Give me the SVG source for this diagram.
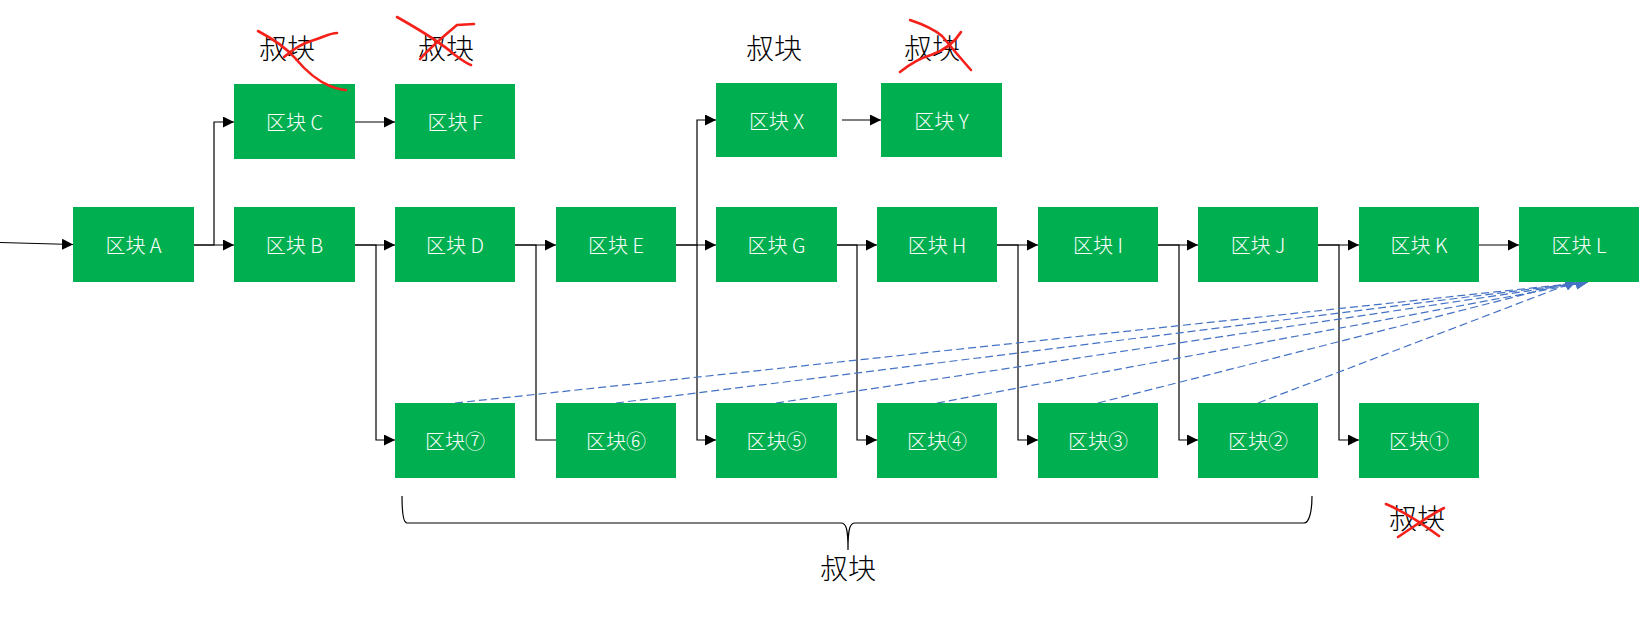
<svg xmlns="http://www.w3.org/2000/svg" width="1644" height="618" viewBox="0 0 1644 618">
<style>
.box rect{fill:#00B050;}
.box text{fill:#fff;font-family:"Noto Sans CJK SC","Noto Sans",sans-serif;font-size:20px;font-weight:300;text-anchor:middle;dominant-baseline:central;}
.lbl{fill:#000;font-family:"Noto Sans CJK SC",sans-serif;font-size:28px;font-weight:300;text-anchor:middle;dominant-baseline:central;}
.c{fill:none;stroke:#000;stroke-width:1.2;}
.d{fill:none;stroke:#4472C4;stroke-width:1.2;stroke-dasharray:8 4;}
.x{fill:none;stroke:#F5201A;stroke-width:2.6;stroke-linecap:round;stroke-linejoin:round;}
</style>
<defs>
<marker id="ah" markerUnits="userSpaceOnUse" markerWidth="12" markerHeight="12" refX="11" refY="5.5" orient="auto"><path d="M0,0 L11,5.5 L0,11 z" fill="#000"/></marker>
<marker id="bh" markerUnits="userSpaceOnUse" markerWidth="13" markerHeight="12" refX="12" refY="5.5" orient="auto"><path d="M0,0 L12,5.5 L0,11 z" fill="#4472C4"/></marker>
</defs>
<rect width="1644" height="618" fill="#fff"/>

<g id="connectors">
<path class="c" d="M0,242.5 L73,244.5" marker-end="url(#ah)"/>
<path class="c" d="M194,245 L234,245" marker-end="url(#ah)"/>
<path class="c" d="M194,245 L214,245 L214,122 L234,122" marker-end="url(#ah)"/>
<path class="c" d="M355,122 L395,122" marker-end="url(#ah)"/>
<path class="c" d="M355,245 L395,245" marker-end="url(#ah)"/>
<path class="c" d="M355,245 L376,245 L376,440 L395,440" marker-end="url(#ah)"/>
<path class="c" d="M515,245 L556,245" marker-end="url(#ah)"/>
<path class="c" d="M515,245 L536,245 L536,440 L556,440"/>
<path class="c" d="M676,245 L716,245" marker-end="url(#ah)"/>
<path class="c" d="M676,245 L697,245 L697,120 L716,120" marker-end="url(#ah)"/>
<path class="c" d="M697,245 L697,440 L716,440" marker-end="url(#ah)"/>
<path class="c" d="M842,120 L881,120" marker-end="url(#ah)"/>
<path class="c" d="M837,245 L877,245" marker-end="url(#ah)"/>
<path class="c" d="M837,245 L857,245 L857,440 L877,440" marker-end="url(#ah)"/>
<path class="c" d="M997,245 L1038,245" marker-end="url(#ah)"/>
<path class="c" d="M997,245 L1018,245 L1018,440 L1038,440" marker-end="url(#ah)"/>
<path class="c" d="M1158,245 L1198,245" marker-end="url(#ah)"/>
<path class="c" d="M1158,245 L1179,245 L1179,440 L1198,440" marker-end="url(#ah)"/>
<path class="c" d="M1318,245 L1359,245" marker-end="url(#ah)"/>
<path class="c" d="M1318,245 L1339,245 L1339,440 L1359,440" marker-end="url(#ah)"/>
<path class="c" d="M1479,245 L1519,245" marker-end="url(#ah)"/>
<path class="d" d="M455,403 L1588,282" marker-end="url(#bh)"/>
<path class="d" d="M616,403 L1588,282" marker-end="url(#bh)"/>
<path class="d" d="M776,403 L1588,282" marker-end="url(#bh)"/>
<path class="d" d="M937,403 L1588,282" marker-end="url(#bh)"/>
<path class="d" d="M1098,403 L1577,281" marker-end="url(#bh)"/>
<path class="d" d="M1258,403 L1577,281" marker-end="url(#bh)"/>
</g>

<g id="nodeA" class="box"><rect x="73" y="207" width="121" height="75"/><text x="133.5" y="244.5">区块 A</text></g>
<g id="nodeB" class="box"><rect x="234" y="207" width="121" height="75"/><text x="294.5" y="244.5">区块 B</text></g>
<g id="nodeC" class="box"><rect x="234" y="84" width="121" height="75"/><text x="294.5" y="121.5">区块 C</text></g>
<g id="nodeD" class="box"><rect x="395" y="207" width="120" height="75"/><text x="455" y="244.5">区块 D</text></g>
<g id="nodeF" class="box"><rect x="395" y="84" width="120" height="75"/><text x="455" y="121.5">区块 F</text></g>
<g id="nodeE" class="box"><rect x="556" y="207" width="120" height="75"/><text x="616" y="244.5">区块 E</text></g>
<g id="nodeX" class="box"><rect x="716" y="83" width="121" height="74"/><text x="776.5" y="120">区块 X</text></g>
<g id="nodeY" class="box"><rect x="881" y="83" width="121" height="74"/><text x="941.5" y="120">区块 Y</text></g>
<g id="nodeG" class="box"><rect x="716" y="207" width="121" height="75"/><text x="776.5" y="244.5">区块 G</text></g>
<g id="nodeH" class="box"><rect x="877" y="207" width="120" height="75"/><text x="937" y="244.5">区块 H</text></g>
<g id="nodeI" class="box"><rect x="1038" y="207" width="120" height="75"/><text x="1098" y="244.5">区块 I</text></g>
<g id="nodeJ" class="box"><rect x="1198" y="207" width="120" height="75"/><text x="1258" y="244.5">区块 J</text></g>
<g id="nodeK" class="box"><rect x="1359" y="207" width="120" height="75"/><text x="1419" y="244.5">区块 K</text></g>
<g id="nodeL" class="box"><rect x="1519" y="207" width="120" height="75"/><text x="1579" y="244.5">区块 L</text></g>
<g id="node7" class="box"><rect x="395" y="403" width="120" height="75"/><text x="455" y="440.5">区块⑦</text></g>
<g id="node6" class="box"><rect x="556" y="403" width="120" height="75"/><text x="616" y="440.5">区块⑥</text></g>
<g id="node5" class="box"><rect x="716" y="403" width="121" height="75"/><text x="776.5" y="440.5">区块⑤</text></g>
<g id="node4" class="box"><rect x="877" y="403" width="120" height="75"/><text x="937" y="440.5">区块④</text></g>
<g id="node3" class="box"><rect x="1038" y="403" width="120" height="75"/><text x="1098" y="440.5">区块③</text></g>
<g id="node2" class="box"><rect x="1198" y="403" width="120" height="75"/><text x="1258" y="440.5">区块②</text></g>
<g id="node1" class="box"><rect x="1359" y="403" width="120" height="75"/><text x="1419" y="440.5">区块①</text></g>

<g id="labels">
<text class="lbl" x="287" y="47">叔块</text>
<text class="lbl" x="446" y="47">叔块</text>
<text class="lbl" x="774" y="47">叔块</text>
<text class="lbl" x="932" y="47">叔块</text>
<text class="lbl" x="1417" y="517">叔块</text>
<text class="lbl" x="848" y="567">叔块</text>
</g>

<g id="brace">
<path class="c" d="M402,496 C402,512 403,523 407,523 L841,523 C846,523 848,528 848,550 M848,550 C848,528 850,523 855,523 L1304,523 C1309,523 1312,512 1312,496"/>
</g>

<g id="crosses">
<path class="x" d="M258,31 C275,40 288,50 295,58 C305,70 315,80 330,86 C338,89 342,90 346,90"/>
<path class="x" d="M284,57 C292,50 300,44 314,40 C324,37 330,33 337,33"/>
<path class="x" d="M397,17 C420,30 440,42 455,55 C463,61 468,64 471,65"/>
<path class="x" d="M420,59 C430,48 445,35 457,25 L474,24"/>
<path class="x" d="M910,20 C925,25 935,30 942,36 C952,48 962,60 971,70"/>
<path class="x" d="M900,72 C910,64 920,58 931,55 C945,50 955,42 961,32"/>
<path class="x" d="M1386,504 C1405,512 1420,522 1439,536"/>
<path class="x" d="M1398,537 C1412,528 1428,516 1444,508"/>
</g>
</svg>
